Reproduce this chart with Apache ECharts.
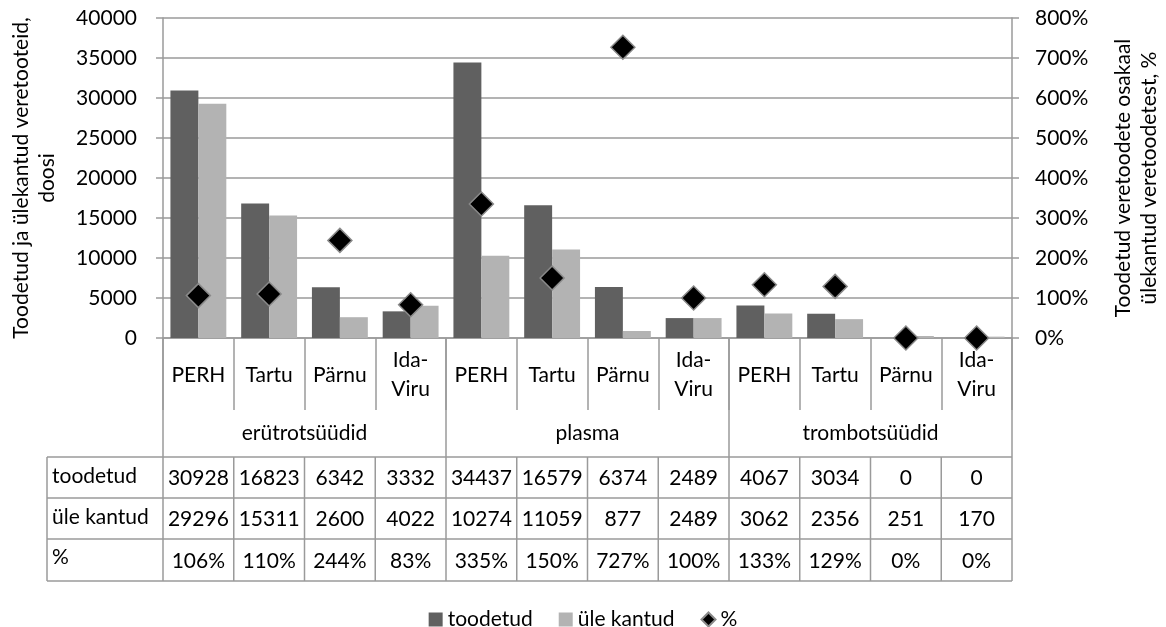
<!DOCTYPE html>
<html>
<head>
<meta charset="utf-8">
<script src="https://cdn.jsdelivr.net/npm/echarts@6/dist/echarts.min.js"></script>
<style>
html,body{margin:0;padding:0;background:#fff;}
#chart{width:1166px;height:627px;}
</style>
</head>
<body>
<div id="chart"></div>
<script>
// ---- data ----
const regions = ['PERH', 'Tartu', 'Pärnu', 'Ida-Viru'];
const groups = ['erütrotsüüdid', 'plasma', 'trombotsüüdid'];
const categories = [].concat(regions, regions, regions);
const toodetud = [30928, 16823, 6342, 3332, 34437, 16579, 6374, 2489, 4067, 3034, 0, 0];
const uleKantud = [29296, 15311, 2600, 4022, 10274, 11059, 877, 2489, 3062, 2356, 251, 170];
const protsent = [106, 110, 244, 83, 335, 150, 727, 100, 133, 129, 0, 0];
const rowLabels = ['toodetud', 'üle kantud', '%'];
const leftTitle = ['Toodetud ja ülekantud veretooteid,', 'doosi'];
const rightTitle = ['Toodetud veretoodete osakaal', 'ülekantud veretoodetest, %'];

// ---- layout ----
const FONT = 'Lato, "Liberation Sans", sans-serif';
const FS = 21;
const GL = 163, GR = 1012, GT = 18, GB = 338;
const W = 1166, H = 627;
const colW = (GR - GL) / categories.length;
const catRowBottom = 410;
const tableTop = 457;
const rowYs = [457, 498, 539, 581];
const tableLeft = 47;
const LINE = '#9a9a9a';

const chart = echarts.init(document.getElementById('chart'), null, {renderer: 'canvas'});

const graphics = [];
function line(x1, y1, x2, y2) {
  graphics.push({type: 'line', silent: true, shape: {x1, y1, x2, y2},
    style: {stroke: LINE, lineWidth: 1.5}});
}
function text(x, y, t, align, extra) {
  graphics.push(Object.assign({type: 'text', silent: true, x, y,
    style: {text: t, fill: '#000', fontSize: FS, fontFamily: FONT,
      align: align || 'center', verticalAlign: 'middle'}}, extra || {}));
}
// vertical lines
for (let k = 0; k <= categories.length; k++) {
  const x = GL + k * colW;
  if (k % regions.length === 0) line(x, GB, x, rowYs[3]);
  else line(x, tableTop, x, rowYs[3]);
}
line(tableLeft, tableTop, tableLeft, rowYs[3]);
rowYs.forEach(y => line(tableLeft, y, GR, y));
// group labels
groups.forEach((g, i) => {
  text(GL + (i * regions.length + regions.length / 2) * colW, (catRowBottom + tableTop) / 2, g);
});
// table rows
const rows = [toodetud.map(String), uleKantud.map(String), protsent.map(v => v + '%')];
rows.forEach((r, ri) => {
  const yc = (rowYs[ri] + rowYs[ri + 1]) / 2;
  text(tableLeft + 5, ri === 2 ? yc - 3 : yc - 1, rowLabels[ri], 'left');
  r.forEach((v, ci) => text(GL + (ci + 0.5) * colW, yc + 1, v));
});
// axis titles (rotated, one element per line)
[[leftTitle, [21, 47]], [rightTitle, [1123, 1149]]].forEach(([lines, xs]) => {
  lines.forEach((t, i) => text(xs[i], 178, t, 'center', {rotation: Math.PI / 2}));
});

const axisLineStyle = {color: LINE, width: 1.5};

chart.setOption({
  animation: false,
  backgroundColor: '#fff',
  textStyle: {fontFamily: FONT},
  grid: {left: GL, right: W - GR, top: GT, bottom: H - GB, containLabel: false},
  legend: {
    top: 604, left: 'center', itemWidth: 14, itemHeight: 14, itemGap: 26,
    textStyle: {fontSize: FS, fontFamily: FONT, color: '#000'},
    data: [{name: 'toodetud', icon: 'rect'}, {name: 'üle kantud', icon: 'rect'}, {name: '%', icon: 'diamond'}]
  },
  xAxis: {
    type: 'category', data: categories,
    axisLine: {show: true, lineStyle: axisLineStyle},
    axisTick: {show: true, interval: 0, length: catRowBottom - GB, lineStyle: axisLineStyle},
    axisLabel: {interval: 0, margin: 37, verticalAlign: 'middle', fontSize: FS, fontFamily: FONT,
      color: '#000', lineHeight: 29,
      formatter: v => v.replace('-', '-\n')},
    splitLine: {show: false}
  },
  yAxis: [{
    type: 'value', min: 0, max: 40000, interval: 5000,
    axisLine: {show: true, lineStyle: axisLineStyle},
    axisTick: {show: true, length: 7, lineStyle: axisLineStyle},
    axisLabel: {margin: 26, fontSize: FS, fontFamily: FONT, color: '#000', formatter: v => String(v)},
    splitLine: {show: true, lineStyle: {color: LINE, width: 1.5}}
  }, {
    type: 'value', min: 0, max: 800, interval: 100,
    axisLine: {show: true, lineStyle: axisLineStyle},
    axisTick: {show: true, length: 7, lineStyle: axisLineStyle},
    axisLabel: {margin: 23, fontSize: FS, fontFamily: FONT, color: '#000', formatter: '{value}%'},
    splitLine: {show: false}
  }],
  series: [{
    name: 'toodetud', type: 'bar', data: toodetud, barGap: '0%', barCategoryGap: '21%',
    itemStyle: {color: '#606060'}
  }, {
    name: 'üle kantud', type: 'bar', data: uleKantud, barGap: '0%', barCategoryGap: '21%',
    itemStyle: {color: '#b3b3b3'}
  }, {
    name: '%', type: 'scatter', yAxisIndex: 1, data: protsent, symbol: 'diamond', symbolSize: 24,
    itemStyle: {color: '#000', borderColor: '#8a8a8a', borderWidth: 1.5, opacity: 1},
    z: 5
  }],
  graphic: graphics
});
</script>
</body>
</html>
